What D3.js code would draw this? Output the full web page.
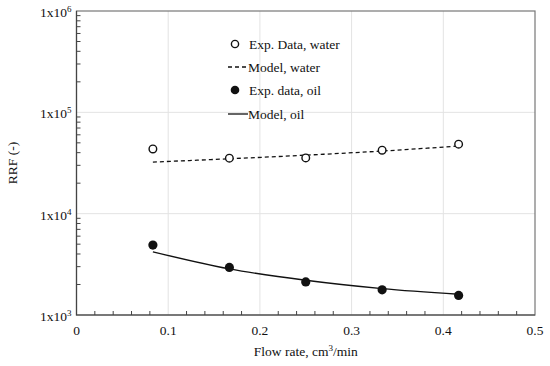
<!DOCTYPE html>
<html>
<head>
<meta charset="utf-8">
<script src="https://cdn.jsdelivr.net/npm/d3@7"></script>
<style>
  body { margin: 0; background: #fff; }
</style>
</head>
<body>
<script>
// Data
const flowRate = [0.0833, 0.1667, 0.25, 0.3333, 0.4167];
const waterExp = [43500, 35300, 35500, 42300, 48500];
const waterModel = [32300, 34800, 37800, 41500, 46500];
const oilExp = [4900, 2950, 2120, 1770, 1560];
const oilModel = [4200, 2850, 2200, 1820, 1600];
const xTicks = [0, 0.1, 0.2, 0.3, 0.4, 0.5];
const yExponents = [3, 4, 5, 6];

const width = 550, height = 366;
const margin = { top: 11, right: 15, bottom: 51, left: 76.5 };

const svg = d3.select('body').append('svg')
  .attr('width', width)
  .attr('height', height)
  .attr('font-family', "'Liberation Serif', 'Times New Roman', Times, serif")
  .attr('fill', '#111');

const x = d3.scaleLinear().domain([0, 0.5]).range([margin.left, width - margin.right]);
const y = d3.scaleLog().domain([1e3, 1e6]).range([height - margin.bottom, margin.top]);

// grid lines
svg.append('g')
  .selectAll('line')
  .data(xTicks.slice(1, -1))
  .join('line')
  .attr('x1', d => x(d)).attr('x2', d => x(d))
  .attr('y1', y(1e6)).attr('y2', y(1e3))
  .attr('stroke', '#e3e3e3');

svg.append('g')
  .selectAll('line')
  .data([1e4, 1e5])
  .join('line')
  .attr('x1', x(0)).attr('x2', x(0.5))
  .attr('y1', d => y(d)).attr('y2', d => y(d))
  .attr('stroke', '#e3e3e3');

// frame
svg.append('rect')
  .attr('x', x(0)).attr('y', y(1e6))
  .attr('width', x(0.5) - x(0)).attr('height', y(1e3) - y(1e6))
  .attr('fill', 'none')
  .attr('stroke', '#777')
  .attr('stroke-width', 1.2);
svg.append('path')
  .attr('d', `M${x(0)},${y(1e6)}V${y(1e3)}H${x(0.5)}`)
  .attr('fill', 'none')
  .attr('stroke', '#444')
  .attr('stroke-width', 1.2);

// minor x ticks (inside, pointing up)
const xMinor = d3.range(0, 0.5001, 0.02).filter(v => Math.abs(v * 10 - Math.round(v * 10)) > 1e-6);
svg.append('g')
  .selectAll('line')
  .data(xMinor)
  .join('line')
  .attr('x1', d => x(d)).attr('x2', d => x(d))
  .attr('y1', y(1e3)).attr('y2', y(1e3) - 4)
  .attr('stroke', '#444');

// minor y ticks (inside, pointing right)
const yMinor = [];
yExponents.slice(0, -1).forEach(e => {
  for (let m = 2; m <= 9; m++) yMinor.push(m * Math.pow(10, e));
});
svg.append('g')
  .selectAll('line')
  .data(yMinor)
  .join('line')
  .attr('x1', x(0)).attr('x2', x(0) + 4)
  .attr('y1', d => y(d)).attr('y2', d => y(d))
  .attr('stroke', '#444');

// x tick labels
svg.append('g')
  .selectAll('text')
  .data(xTicks)
  .join('text')
  .attr('x', d => x(d))
  .attr('y', y(1e3) + 20)
  .attr('text-anchor', 'middle')
  .attr('font-size', 13.5)
  .text(d => d === 0 ? '0' : d3.format('.1f')(d));

// y tick labels
const yLab = svg.append('g')
  .selectAll('text')
  .data(yExponents)
  .join('text')
  .attr('x', x(0) - 5)
  .attr('y', d => y(Math.pow(10, d)) + 6)
  .attr('text-anchor', 'end')
  .attr('font-size', 13.5);
yLab.append('tspan').text('1x10');
yLab.append('tspan')
  .attr('font-size', 9)
  .attr('dy', -5)
  .text(d => d);

// axis titles
svg.append('text')
  .attr('transform', `translate(17,${(y(1e3) + y(1e6)) / 2}) rotate(-90)`)
  .attr('text-anchor', 'middle')
  .attr('font-size', 13.5)
  .text('RRF (-)');

const xt = svg.append('text')
  .attr('x', (x(0) + x(0.5)) / 2)
  .attr('y', 356)
  .attr('text-anchor', 'middle')
  .attr('font-size', 13.5);
xt.append('tspan').text('Flow rate, cm');
xt.append('tspan').attr('font-size', 9).attr('dy', -5).text('3');
xt.append('tspan').attr('dy', 5).text('/min');

// lines
const line = d3.line()
  .x((d, i) => x(flowRate[i]))
  .y(d => y(d))
  .curve(d3.curveMonotoneX);

svg.append('path')
  .datum(waterModel)
  .attr('d', line)
  .attr('fill', 'none')
  .attr('stroke', '#111')
  .attr('stroke-width', 1.3)
  .attr('stroke-dasharray', '4,3');

svg.append('path')
  .datum(oilModel)
  .attr('d', line)
  .attr('fill', 'none')
  .attr('stroke', '#111')
  .attr('stroke-width', 1.4);

// points
svg.append('g')
  .selectAll('circle')
  .data(waterExp)
  .join('circle')
  .attr('cx', (d, i) => x(flowRate[i]))
  .attr('cy', d => y(d))
  .attr('r', 3.8)
  .attr('fill', '#fff')
  .attr('stroke', '#111')
  .attr('stroke-width', 1.4);

svg.append('g')
  .selectAll('circle')
  .data(oilExp)
  .join('circle')
  .attr('cx', (d, i) => x(flowRate[i]))
  .attr('cy', d => y(d))
  .attr('r', 4.6)
  .attr('fill', '#111');

// legend
const legend = svg.append('g').attr('transform', 'translate(248,0)');
const rows = [
  { label: 'Exp. Data, water', y: 44, type: 'open' },
  { label: 'Model, water', y: 67, type: 'dash' },
  { label: 'Exp. data, oil', y: 90, type: 'filled' },
  { label: 'Model, oil', y: 114, type: 'solid' }
];
rows.forEach(r => {
  if (r.type === 'open') {
    legend.append('circle').attr('cx', -13).attr('cy', r.y).attr('r', 3.6)
      .attr('fill', '#fff').attr('stroke', '#111').attr('stroke-width', 1.4);
  } else if (r.type === 'filled') {
    legend.append('circle').attr('cx', -13).attr('cy', r.y).attr('r', 4.3)
      .attr('fill', '#111');
  } else {
    legend.append('line').attr('x1', -20).attr('x2', 0)
      .attr('y1', r.y).attr('y2', r.y)
      .attr('stroke', '#111').attr('stroke-width', 1.3)
      .attr('stroke-dasharray', r.type === 'dash' ? '4,3' : null);
  }
  legend.append('text')
    .attr('x', r.type === 'dash' || r.type === 'solid' ? 0 : 1)
    .attr('y', r.y + 4.5)
    .attr('font-size', 13.5)
    .text(r.label);
});
</script>
</body>
</html>
